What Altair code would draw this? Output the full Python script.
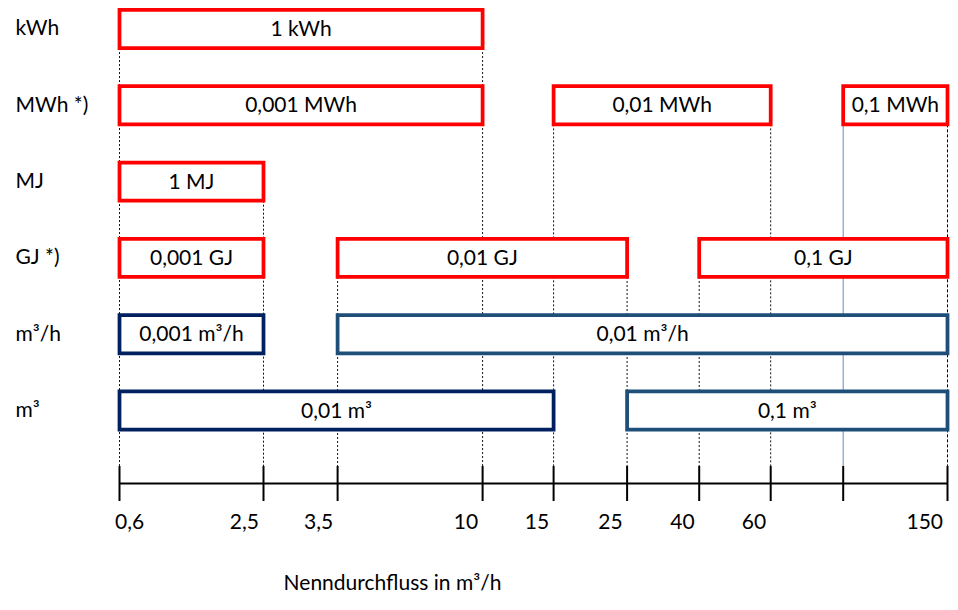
import altair as alt
import pandas as pd

FONT = "Lato"

rows = ["kWh", "MWh *)", "MJ", "GJ *)", "m³/h", "m³"]

tick_values = [0.6, 2.5, 3.5, 10, 15, 25, 40, 60, 100, 150]
tick_labels = ["0,6", "2,5", "3,5", "10", "15", "25", "40", "60", "", "150"]

box_row = ["kWh", "MWh *)", "MWh *)", "MWh *)", "MJ", "GJ *)", "GJ *)", "GJ *)",
           "m³/h", "m³/h", "m³", "m³"]
box_start = [0.6, 0.6, 15, 100, 0.6, 0.6, 3.5, 40, 0.6, 3.5, 0.6, 25]
box_end = [10, 10, 60, 150, 2.5, 2.5, 25, 150, 2.5, 150, 15, 150]
box_text = ["1 kWh", "0,001 MWh", "0,01 MWh", "0,1 MWh", "1 MJ", "0,001 GJ", "0,01 GJ",
            "0,1 GJ", "0,001 m³/h", "0,01 m³/h", "0,01 m³", "0,1 m³"]
box_group = ["energy"] * 8 + ["vol_a", "vol_b", "vol_a", "vol_b"]

guide_x = tick_values
guide_from_row = ["kWh", "MJ", "GJ *)", "kWh", "MWh *)", "GJ *)", "GJ *)", "MWh *)",
                  "MWh *)", "MWh *)"]
guide_style = ["dot"] * 8 + ["blue", "bold"]

boxes = pd.DataFrame({
    "row": [rows.index(r) for r in box_row],
    "start": box_start,
    "end": box_end,
    "text": box_text,
    "group": box_group,
})
guides = pd.DataFrame({
    "x": guide_x,
    "row": [rows.index(r) for r in guide_from_row],
    "style": guide_style,
})
ticks = pd.DataFrame({"x": tick_values})

# piecewise linear (non-uniform) x scale, as on the original drawing
x_scale = alt.Scale(domain=tick_values,
                    range=[11.5, 155.5, 229.6, 374.6, 445.6, 519.1, 591.2, 662.7, 735.2, 839.5],
                    nice=False, zero=False)
y_scale = alt.Scale(domain=[-0.275, 5.95], reverse=True, nice=False, zero=False)

vals_js = "[" + ",".join(str(v) for v in tick_values) + "]"
labs_js = "[" + ",".join("'" + l + "'" for l in tick_labels) + "]"
rows_js = "[" + ",".join("'" + r + "'" for r in rows) + "]"

x_axis = alt.Axis(
    values=tick_values,
    labelExpr=f"{labs_js}[indexof({vals_js}, datum.value)]",
    ticks=False, tickSize=0, grid=False,
    domain=True, domainColor="black", domainWidth=2,
    labelFont=FONT, labelFontSize=21, labelColor="black",
    labelBaseline="alphabetic", labelPadding=45,
    labelAlign={"condition": {"test": "datum.value == 0.6", "value": "left"}, "value": "right"},
    labelOffset=-5, labelOverlap=False, labelFlush=False,
    title="Nenndurchfluss in m³/h", titleFont=FONT, titleFontSize=21,
    titleFontWeight="normal", titleColor="black",
    titleX=284, titleY=106, titleAlign="center", titleBaseline="alphabetic",
)
y_axis = alt.Axis(
    values=list(range(len(rows))),
    labelExpr=f"{rows_js}[datum.value]",
    ticks=False, domain=False, grid=False,
    labelFont=FONT, labelFontSize=21, labelColor="black",
    labelAlign="left", labelPadding=93, labelBaseline="middle",
    title=None,
)

style_dom = ["dot", "blue", "bold"]
guide_layer = alt.Chart(guides).transform_calculate(
    ytop="datum.row + 0.25"
).mark_rule().encode(
    x=alt.X("x:Q", scale=x_scale, axis=x_axis),
    y=alt.Y("ytop:Q", scale=y_scale, axis=y_axis),
    y2=alt.value(458),
    color=alt.Color("style:N", scale=alt.Scale(domain=style_dom,
                                               range=["#111111", "#4F7AC0", "#000000"]),
                    legend=None),
    strokeWidth=alt.StrokeWidth("style:N", scale=alt.Scale(domain=style_dom,
                                                           range=[1, 1, 2.5]),
                                legend=None),
    strokeDash=alt.StrokeDash("style:N", scale=alt.Scale(domain=style_dom,
                                                         range=[[2, 2], [1, 0], [3, 2]]),
                              legend=None),
)

tick_layer = alt.Chart(ticks).mark_rule(color="black", strokeWidth=2).encode(
    x=alt.X("x:Q", scale=x_scale),
    y=alt.value(458),
    y2=alt.value(493),
)

box_layer = alt.Chart(boxes).transform_calculate(
    y0="datum.row - 0.25", y1="datum.row + 0.25"
).mark_rect(fill="white", strokeWidth=3.75).encode(
    x=alt.X("start:Q", scale=x_scale),
    x2="end:Q",
    y=alt.Y("y0:Q", scale=y_scale),
    y2="y1:Q",
    stroke=alt.Stroke("group:N", scale=alt.Scale(domain=["energy", "vol_a", "vol_b"],
                                                 range=["#FF0000", "#002060", "#1F4E79"]),
                      legend=None),
)

text_layer = alt.Chart(boxes).mark_text(
    font=FONT, fontSize=21, color="black", align="center", baseline="middle", dy=1
).encode(
    x={"value": {"expr": "(scale('x', datum.start) + scale('x', datum.end)) / 2"}},
    y=alt.Y("row:Q", scale=y_scale),
    text="text:N",
)

chart = alt.layer(guide_layer, box_layer, text_layer, tick_layer).properties(
    width=842, height=475,
    autosize=alt.AutoSizeParams(type="none"),
    padding={"left": 100, "top": 0, "right": 0, "bottom": 111},
    background="white",
).configure_view(stroke=None)

chart.save("out.html", embed_options={"renderer": "svg", "actions": False})
